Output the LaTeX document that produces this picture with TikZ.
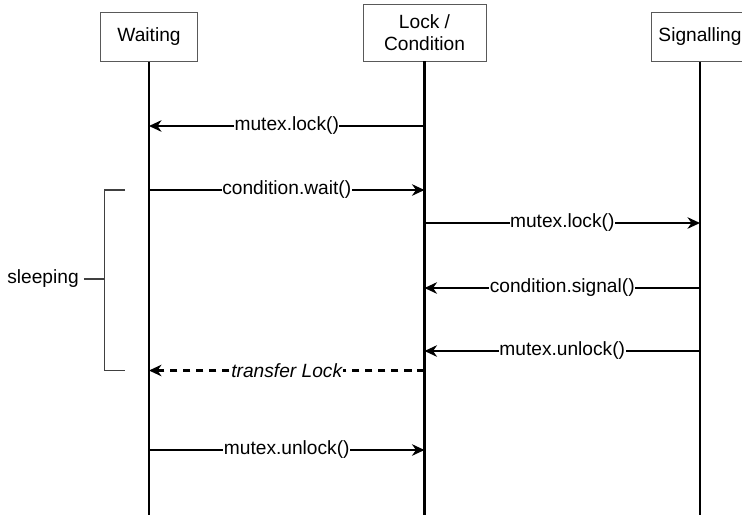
\documentclass[tikz,border=0pt]{standalone}
\usepackage{fontspec}
\setmainfont{Liberation Sans}
\usepackage{tikz}
\usetikzlibrary{arrows.meta,
	calc,
	positioning}

\tikzset{
	actor/.style={draw=black!65, line width=0.5pt, fill=white, minimum width=1.94cm, minimum height=0.98cm, align=center, inner sep=2pt},
	lifeline/.style={black, line width=1.35pt},
	msg/.style={black, line width=1.35pt, -{Stealth[length=2.5mm, width=2.3mm, inset=0.8mm]}},
	reply/.style={msg, dash pattern=on 4pt off 3.4pt},
	msglabel/.style={fill=white, inner sep=0.3pt},
	brace/.style={black!75, line width=0.8pt}
}

\begin{document}
\begin{tikzpicture}[font=\fontsize{10.9}{12.6}\selectfont]
	\useasboundingbox (0, 0) rectangle (14.84, -10.3);
	% the three participants
	\node[actor] (wait) at (2.98, -0.734) {Waiting};
	\node[actor, minimum width=2.46cm, minimum height=1.14cm] (lock) at (8.49, -0.65) {Lock /\\Condition};
	\node[actor] (sig) at (14.0, -0.734) {Signalling};
	% lifelines down to the bottom edge
	\coordinate (bottom) at (0, -10.3);
	\draw[lifeline] (wait.south) -- (wait.south |- bottom);
	\draw[lifeline] (lock.south) -- (lock.south |- bottom);
	\draw[lifeline] (sig.south) -- (sig.south |- bottom);
	% heights of the messages
	\coordinate (m1) at (0, -2.52);
	\coordinate (m2) at (0, -3.80);
	\coordinate (m3) at (0, -4.46);
	\coordinate (m4) at (0, -5.76);
	\coordinate (m5) at (0, -7.02);
	\coordinate (m6) at (0, -7.41);
	\coordinate (m7) at (0, -9.00);
	\draw[msg] (lock |- m1) -- node[msglabel] {mutex.lock()} (wait |- m1);
	\draw[msg] (wait |- m2) -- node[msglabel] {condition.wait()} (lock |- m2);
	\draw[msg] (lock |- m3) -- node[msglabel] {mutex.lock()} (sig |- m3);
	\draw[msg] (sig |- m4) -- node[msglabel] {condition.signal()} (lock |- m4);
	\draw[msg] (sig |- m5) -- node[msglabel] {mutex.unlock()} (lock |- m5);
	\draw[reply] (lock |- m6) -- node[msglabel] {\itshape transfer Lock} (wait |- m6);
	\draw[msg] (wait |- m7) -- node[msglabel] {mutex.unlock()} (lock |- m7);
	% sleeping bracket
	\coordinate (bt) at (2.50, -3.80);
	\coordinate (bb) at (2.50, -7.41);
	\draw[brace] (bt) -- ++(-0.41, 0) coordinate (bt0) -- (bt0 |- bb) coordinate (bb0) -- (bb);
	\node (sleep) at (0.86, -5.58) {sleeping};
	\draw[brace] (sleep.east) ++(-0.02, 0) coordinate (st) -- (st -| bt0);
\end{tikzpicture}
\end{document}
